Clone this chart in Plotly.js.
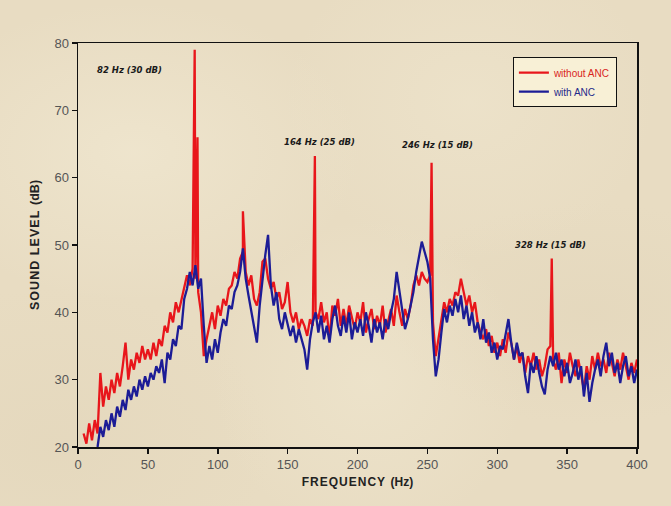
<!DOCTYPE html>
<html>
<head>
<meta charset="utf-8">
<script src="https://cdn.plot.ly/plotly-3.0.1.min.js"></script>
<style>
html,body{margin:0;padding:0;}
body{width:671px;height:506px;overflow:hidden;
background-color:#e8dcc2;
background-image:
 radial-gradient(ellipse at 20% 30%, rgba(242,234,212,0.6) 0%, rgba(242,234,212,0) 30%),
 radial-gradient(ellipse at 70% 20%, rgba(240,231,208,0.5) 0%, rgba(240,231,208,0) 28%),
 radial-gradient(ellipse at 55% 75%, rgba(241,233,210,0.5) 0%, rgba(241,233,210,0) 30%),
 radial-gradient(ellipse at 88% 62%, rgba(224,211,183,0.4) 0%, rgba(224,211,183,0) 25%),
 radial-gradient(ellipse at 8% 88%, rgba(224,211,183,0.4) 0%, rgba(224,211,183,0) 25%);
}
#chart{width:671px;height:506px;}
</style>
</head>
<body>
<div id="chart"></div>
<script>
// Frequency grid (Hz)
const freq = [4,6,8,10,12,14,16,18,20,22,24,26,28,30,32,34,36,38,40,42,44,46,48,50,52,54,56,58,60,62,64,66,68,70,72,74,76,78,80,82,84,86,88,90,92,94,96,98,100,102,104,106,108,110,112,114,116,118,120,122,124,126,128,130,132,134,136,138,140,142,144,146,148,150,152,154,156,158,160,162,164,166,168,170,172,174,176,178,180,182,184,186,188,190,192,194,196,198,200,202,204,206,208,210,212,214,216,218,220,222,224,226,228,230,232,234,236,238,240,242,244,246,248,250,252,254,256,258,260,262,264,266,268,270,272,274,276,278,280,282,284,286,288,290,292,294,296,298,300,302,304,306,308,310,312,314,316,318,320,322,324,326,328,330,332,334,336,338,340,342,344,346,348,350,352,354,356,358,360,362,364,366,368,370,372,374,376,378,380,382,384,386,388,390,392,394,396,398,400];

// Without ANC (dB)
const withoutANC = [22,20.5,23.5,21,24,22,31,26,29,27,30,28,31,29,32,35.5,30,33,31.5,34,32.5,35,33,34.5,33,35.5,33.5,36,35,38,37,40,38.5,41.5,40,42,43.5,45.5,44,46.5,45,43,40,33.5,36,38,40,37.5,41,39.5,42,41,43.5,44,46,45,48,49,46,44,45.5,42,41,43,47.5,48,45,43.5,44.5,42,43,40.5,41.5,44.5,40,38.5,40,37.5,39,38,36.5,39,38,40,39,41.5,38.5,40,36,41,39.5,42,38,40.5,38,41,39,37.5,40,38.5,41.5,37,39,40.5,37.5,39.5,38,41,37,39,40.5,38,42.5,40,38,40.5,39,41,44,45.5,44,46,45,44.5,45.5,38.5,33.5,36,39,41.5,40,42,41,43,42.5,45,43,41,42.5,40,41.5,38.5,37,36,37.5,35,36.5,34,35.5,33.5,36,34,37,35.5,33,35,32.5,34,31,33.5,32,34,31.5,33,30.5,32,34.5,35,33,31.5,34,29.5,33,31,34,32,30.5,33,31,28.5,32,30,33.5,31.5,34,32,33,31,34,32.5,30.5,33,31.5,34,32,30,32.5,31,33];

// With ANC (dB)
const withANC = [null,null,null,null,null,20,23,21.5,24,22.5,25,23,26,24.5,27,25.5,28.5,27,29,27.5,30,28.5,30.5,29,31,30,32,31,33,29.5,34,33,36,35,38,37.5,42,43.5,46,44,47,43.5,45,38,32.5,35,33,36,34,37,39,38,41,40.5,43,44,46,49.5,45,42.5,40,38,35.5,41,45,48.5,51.5,44,41,43,39,37.5,40,38,36.5,38,35.5,37.5,36,34.5,31.5,36,38.5,40,37,39.5,36,38,35.5,39,41,38,36.5,39.5,37,40,36,38.5,37,39,36.5,40,38,35.5,39,37,38.5,36,39,37.5,40,42,46,43,40,37.5,39,41,43,46,48,50.5,49,47.5,45,36,30.5,33,37,40.5,38.5,41,39.5,42,40,42.5,39,41,38,40,37,38.5,36,39,35.5,37,34,35.5,33,35,34.5,36.5,39,35.5,33,35.5,33.5,34,30.5,28,32.5,31,33.5,31,29,27.8,31.5,33.5,32,34,31.5,33,30.5,32.5,29.5,31,33,30,32,27.5,31,26.7,29.5,31.5,33,30.5,33.5,35.5,32,34,31,32.5,29.5,32,33.5,30.5,32,29.5,31.5];

// Tonal peaks of the "without ANC" spectrum
const spikeFreq = [83.5, 85.5, 118, 169.5, 253, 339];
const spikeLevel = [79, 66, 55, 63.2, 62.2, 48];

// Peak labels
const labelText = ['82 Hz (30 dB)', '164 Hz (25 dB)', '246 Hz (15 dB)', '328 Hz (15 dB)'];
const labelFreq = [37, 173, 257, 338];
const labelLevel = [76, 65.3, 64.9, 50];

// Axis titles (letter-spaced with hair spaces)
const spaced = (s, sp) => s.split('').join(sp);
const xTitle = spaced('FREQUENCY', '\u200A') + ' \u2009(Hz)';
const yTitle = spaced('SOUND LEVEL', '\u200A') + ' \u2009(dB)';

// merge spikes into the red series
const redPts = freq.map((f,i)=>[f, withoutANC[i]]).concat(spikeFreq.map((f,i)=>[f, spikeLevel[i]]));
redPts.sort((a,b)=>a[0]-b[0]);

const traces = [
  {x: redPts.map(p=>p[0]), y: redPts.map(p=>p[1]), type:'scatter', mode:'lines',
   name:'<span style="color:#d8261c">without ANC</span>',
   line:{color:'#e8161b', width:2.3}},
  {x: freq, y: withANC, type:'scatter', mode:'lines',
   name:'<span style="color:#1f2a8a">with ANC</span>',
   line:{color:'#1c1c96', width:2.3}, connectgaps:false}
];

const annotations = labelText.map((t,i)=>({
  x: labelFreq[i], y: labelLevel[i], xref:'x', yref:'y', text: '<b><i>'+t+'</i></b>',
  showarrow:false, font:{family:'DejaVu Sans, Verdana, sans-serif', size:8.5, color:'#1a1a1a'}
}));

const layout = {
  width:671, height:506,
  paper_bgcolor:'rgba(0,0,0,0)', plot_bgcolor:'rgba(0,0,0,0)',
  margin:{l:78, r:34, t:43, b:59},
  showlegend:true,
  legend:{x:0.778, y:0.965, xanchor:'left', yanchor:'top',
    bgcolor:'#f8f0d6', bordercolor:'#111', borderwidth:1,
    font:{family:'Liberation Sans, Arial, sans-serif', size:10},
    itemwidth:30, tracegroupgap:0},
  xaxis:{range:[0,400], tickvals:[0,50,100,150,200,250,300,350,400],
    showgrid:false, zeroline:false, showline:true, linecolor:'#111', linewidth:1.5, mirror:true,
    ticks:'outside', ticklen:5, tickcolor:'#111', tickwidth:1.5,
    tickfont:{family:'Liberation Sans, Arial, sans-serif', size:13, color:'#555'},
    title:{text:'<b>'+xTitle+'</b>', standoff:6,
      font:{family:'Liberation Sans, Arial, sans-serif', size:12, color:'#222'}}},
  yaxis:{range:[20,80], tickvals:[20,30,40,50,60,70,80],
    showgrid:false, zeroline:false, showline:true, linecolor:'#111', linewidth:1.5, mirror:true,
    ticks:'outside', ticklen:5, tickcolor:'#111', tickwidth:1.5,
    tickfont:{family:'Liberation Sans, Arial, sans-serif', size:13, color:'#555'},
    title:{text:'<b>'+yTitle+'</b>', standoff:12,
      font:{family:'Liberation Sans, Arial, sans-serif', size:12.5, color:'#222'}}},
  annotations: annotations
};

Plotly.newPlot('chart', traces, layout, {displayModeBar:false, staticPlot:true});
</script>
</body>
</html>
